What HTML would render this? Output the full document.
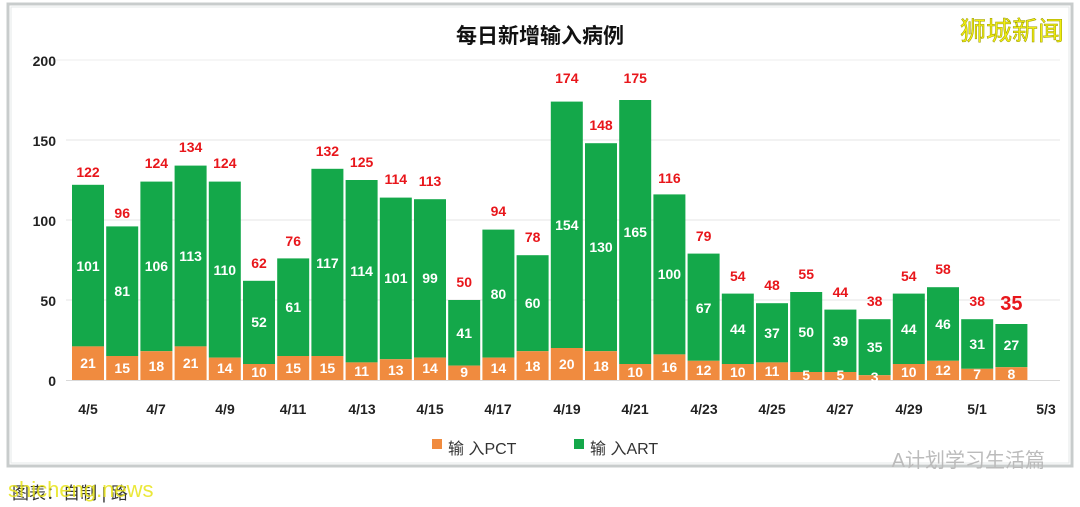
<!DOCTYPE html>
<html><head><meta charset="utf-8"><style>
body{margin:0;background:#fff;width:1080px;height:507px;overflow:hidden}
svg{display:block}
.t{font-family:"Liberation Sans Narrow","Liberation Sans","Noto Sans CJK SC",sans-serif;font-weight:bold;font-size:14px;text-anchor:middle}
.r{fill:#e8161b}.w{fill:#fff}
.ax{font-family:"Liberation Sans Narrow","Liberation Sans",sans-serif;font-size:14px;font-weight:bold;fill:#222}
</style></head><body>
<svg width="1080" height="507" viewBox="0 0 1080 507">
<rect x="8" y="4" width="1064" height="462" fill="#fff" stroke="#c8cccc" stroke-width="3"/>
<rect x="11" y="7" width="1058" height="456" fill="none" stroke="#e6e8e8" stroke-width="1"/>
<line x1="30" y1="60" x2="1060" y2="60" stroke="#eee"/>
<g stroke="#e4e4e4"><line x1="66" y1="140" x2="1060" y2="140"/><line x1="66" y1="220" x2="1060" y2="220"/><line x1="66" y1="300" x2="1060" y2="300"/></g>
<line x1="66" y1="380.5" x2="1060" y2="380.5" stroke="#d9d9d9"/>
<text x="540" y="43" text-anchor="middle" style="font-family:'Liberation Sans','Noto Sans CJK SC',sans-serif;font-weight:bold;font-size:21px;fill:#111">每日新增输入病例</text>
<text x="1012" y="40" text-anchor="middle" style="font-family:'Liberation Sans','Noto Sans CJK SC',sans-serif;font-size:26px;fill:#f2ef10;stroke:#9a9a00;stroke-width:0.5">狮城新闻</text>
<g class="ax" text-anchor="end"><text x="56" y="66">200</text><text x="56" y="146">150</text><text x="56" y="226">100</text><text x="56" y="306">50</text><text x="56" y="386">0</text></g>
<g class="ax" text-anchor="middle">
<text x="88" y="414">4/5</text><text x="156" y="414">4/7</text><text x="225" y="414">4/9</text><text x="293" y="414">4/11</text><text x="362" y="414">4/13</text><text x="430" y="414">4/15</text><text x="498" y="414">4/17</text><text x="567" y="414">4/19</text><text x="635" y="414">4/21</text><text x="704" y="414">4/23</text><text x="772" y="414">4/25</text><text x="840" y="414">4/27</text><text x="909" y="414">4/29</text><text x="977" y="414">5/1</text><text x="1046" y="414">5/3</text>
</g>
<g id="bars">
<g transform="translate(88,0)"><rect x="-16" y="184.8" width="32" height="161.6" fill="#14a84a"/><rect x="-16" y="346.4" width="32" height="33.6" fill="#f08b3f"/><text class="t r" y="177">122</text><text class="t w" y="271">101</text><text class="t w" y="368">21</text></g>
<g transform="translate(122.2,0)"><rect x="-16" y="226.4" width="32" height="129.6" fill="#14a84a"/><rect x="-16" y="356" width="32" height="24" fill="#f08b3f"/><text class="t r" y="218">96</text><text class="t w" y="296">81</text><text class="t w" y="373">15</text></g>
<g transform="translate(156.4,0)"><rect x="-16" y="181.6" width="32" height="169.6" fill="#14a84a"/><rect x="-16" y="351.2" width="32" height="28.8" fill="#f08b3f"/><text class="t r" y="168">124</text><text class="t w" y="271">106</text><text class="t w" y="371">18</text></g>
<g transform="translate(190.6,0)"><rect x="-16" y="165.6" width="32" height="180.8" fill="#14a84a"/><rect x="-16" y="346.4" width="32" height="33.6" fill="#f08b3f"/><text class="t r" y="152">134</text><text class="t w" y="261">113</text><text class="t w" y="368">21</text></g>
<g transform="translate(224.8,0)"><rect x="-16" y="181.6" width="32" height="176" fill="#14a84a"/><rect x="-16" y="357.6" width="32" height="22.4" fill="#f08b3f"/><text class="t r" y="168">124</text><text class="t w" y="275">110</text><text class="t w" y="373">14</text></g>
<g transform="translate(259,0)"><rect x="-16" y="280.8" width="32" height="83.2" fill="#14a84a"/><rect x="-16" y="364" width="32" height="16" fill="#f08b3f"/><text class="t r" y="268">62</text><text class="t w" y="327">52</text><text class="t w" y="377">10</text></g>
<g transform="translate(293.2,0)"><rect x="-16" y="258.4" width="32" height="97.6" fill="#14a84a"/><rect x="-16" y="356" width="32" height="24" fill="#f08b3f"/><text class="t r" y="246">76</text><text class="t w" y="312">61</text><text class="t w" y="373">15</text></g>
<g transform="translate(327.4,0)"><rect x="-16" y="168.8" width="32" height="187.2" fill="#14a84a"/><rect x="-16" y="356" width="32" height="24" fill="#f08b3f"/><text class="t r" y="156">132</text><text class="t w" y="268">117</text><text class="t w" y="373">15</text></g>
<g transform="translate(361.6,0)"><rect x="-16" y="180" width="32" height="182.4" fill="#14a84a"/><rect x="-16" y="362.4" width="32" height="17.6" fill="#f08b3f"/><text class="t r" y="167">125</text><text class="t w" y="276">114</text><text class="t w" y="376">11</text></g>
<g transform="translate(395.8,0)"><rect x="-16" y="197.6" width="32" height="161.6" fill="#14a84a"/><rect x="-16" y="359.2" width="32" height="20.8" fill="#f08b3f"/><text class="t r" y="184">114</text><text class="t w" y="283">101</text><text class="t w" y="375">13</text></g>
<g transform="translate(430,0)"><rect x="-16" y="199.2" width="32" height="158.4" fill="#14a84a"/><rect x="-16" y="357.6" width="32" height="22.4" fill="#f08b3f"/><text class="t r" y="186">113</text><text class="t w" y="283">99</text><text class="t w" y="373">14</text></g>
<g transform="translate(464.2,0)"><rect x="-16" y="300" width="32" height="65.6" fill="#14a84a"/><rect x="-16" y="365.6" width="32" height="14.4" fill="#f08b3f"/><text class="t r" y="287">50</text><text class="t w" y="338">41</text><text class="t w" y="377">9</text></g>
<g transform="translate(498.4,0)"><rect x="-16" y="229.6" width="32" height="128" fill="#14a84a"/><rect x="-16" y="357.6" width="32" height="22.4" fill="#f08b3f"/><text class="t r" y="216">94</text><text class="t w" y="299">80</text><text class="t w" y="373">14</text></g>
<g transform="translate(532.6,0)"><rect x="-16" y="255.2" width="32" height="96" fill="#14a84a"/><rect x="-16" y="351.2" width="32" height="28.8" fill="#f08b3f"/><text class="t r" y="242">78</text><text class="t w" y="308">60</text><text class="t w" y="371">18</text></g>
<g transform="translate(566.8,0)"><rect x="-16" y="101.6" width="32" height="246.4" fill="#14a84a"/><rect x="-16" y="348" width="32" height="32" fill="#f08b3f"/><text class="t r" y="83">174</text><text class="t w" y="230">154</text><text class="t w" y="369">20</text></g>
<g transform="translate(601,0)"><rect x="-16" y="143.2" width="32" height="208" fill="#14a84a"/><rect x="-16" y="351.2" width="32" height="28.8" fill="#f08b3f"/><text class="t r" y="130">148</text><text class="t w" y="252">130</text><text class="t w" y="371">18</text></g>
<g transform="translate(635.2,0)"><rect x="-16" y="100" width="32" height="264" fill="#14a84a"/><rect x="-16" y="364" width="32" height="16" fill="#f08b3f"/><text class="t r" y="83">175</text><text class="t w" y="237">165</text><text class="t w" y="377">10</text></g>
<g transform="translate(669.4,0)"><rect x="-16" y="194.4" width="32" height="160" fill="#14a84a"/><rect x="-16" y="354.4" width="32" height="25.6" fill="#f08b3f"/><text class="t r" y="183">116</text><text class="t w" y="279">100</text><text class="t w" y="372">16</text></g>
<g transform="translate(703.6,0)"><rect x="-16" y="253.6" width="32" height="107.2" fill="#14a84a"/><rect x="-16" y="360.8" width="32" height="19.2" fill="#f08b3f"/><text class="t r" y="241">79</text><text class="t w" y="313">67</text><text class="t w" y="375">12</text></g>
<g transform="translate(737.8,0)"><rect x="-16" y="293.6" width="32" height="70.4" fill="#14a84a"/><rect x="-16" y="364" width="32" height="16" fill="#f08b3f"/><text class="t r" y="281">54</text><text class="t w" y="334">44</text><text class="t w" y="377">10</text></g>
<g transform="translate(772,0)"><rect x="-16" y="303.2" width="32" height="59.2" fill="#14a84a"/><rect x="-16" y="362.4" width="32" height="17.6" fill="#f08b3f"/><text class="t r" y="290">48</text><text class="t w" y="338">37</text><text class="t w" y="376">11</text></g>
<g transform="translate(806.2,0)"><rect x="-16" y="292" width="32" height="80" fill="#14a84a"/><rect x="-16" y="372" width="32" height="8" fill="#f08b3f"/><text class="t r" y="279">55</text><text class="t w" y="337">50</text><text class="t w" y="380">5</text></g>
<g transform="translate(840.4,0)"><rect x="-16" y="309.6" width="32" height="62.4" fill="#14a84a"/><rect x="-16" y="372" width="32" height="8" fill="#f08b3f"/><text class="t r" y="297">44</text><text class="t w" y="346">39</text><text class="t w" y="380">5</text></g>
<g transform="translate(874.6,0)"><rect x="-16" y="319.2" width="32" height="56" fill="#14a84a"/><rect x="-16" y="375.2" width="32" height="4.8" fill="#f08b3f"/><text class="t r" y="306">38</text><text class="t w" y="352">35</text><text class="t w" y="382">3</text></g>
<g transform="translate(908.8,0)"><rect x="-16" y="293.6" width="32" height="70.4" fill="#14a84a"/><rect x="-16" y="364" width="32" height="16" fill="#f08b3f"/><text class="t r" y="281">54</text><text class="t w" y="334">44</text><text class="t w" y="377">10</text></g>
<g transform="translate(943,0)"><rect x="-16" y="287.2" width="32" height="73.6" fill="#14a84a"/><rect x="-16" y="360.8" width="32" height="19.2" fill="#f08b3f"/><text class="t r" y="274">58</text><text class="t w" y="329">46</text><text class="t w" y="375">12</text></g>
<g transform="translate(977.2,0)"><rect x="-16" y="319.2" width="32" height="49.6" fill="#14a84a"/><rect x="-16" y="368.8" width="32" height="11.2" fill="#f08b3f"/><text class="t r" y="306">38</text><text class="t w" y="349">31</text><text class="t w" y="379">7</text></g>
<g transform="translate(1011.4,0)"><rect x="-16" y="324" width="32" height="43.2" fill="#14a84a"/><rect x="-16" y="367.2" width="32" height="12.8" fill="#f08b3f"/><text class="t r" y="310" style="font-size:20px">35</text><text class="t w" y="350">27</text><text class="t w" y="379">8</text></g>
</g>
<rect x="432" y="439" width="10" height="10" fill="#f08b3f"/>
<text x="448" y="454" style="font-family:'Liberation Sans','Noto Sans CJK SC',sans-serif;font-size:16px;fill:#333">输 入PCT</text>
<rect x="574" y="439" width="10" height="10" fill="#14a84a"/>
<text x="590" y="454" style="font-family:'Liberation Sans','Noto Sans CJK SC',sans-serif;font-size:16px;fill:#333">输 入ART</text>
<text x="1045" y="467" text-anchor="end" style="font-family:'Liberation Sans','Noto Sans CJK SC',sans-serif;font-size:20px;fill:#bbb">A计划学习生活篇</text>
<text x="12" y="499" style="font-family:'Liberation Sans','Noto Sans CJK SC',sans-serif;font-size:17px;fill:#333">图表：自制 | 路</text>
<text x="8" y="497" style="font-family:'Liberation Sans',sans-serif;font-size:22px;fill:#e8e418;opacity:0.85">shicheng.news</text>
</svg>
</body></html>
